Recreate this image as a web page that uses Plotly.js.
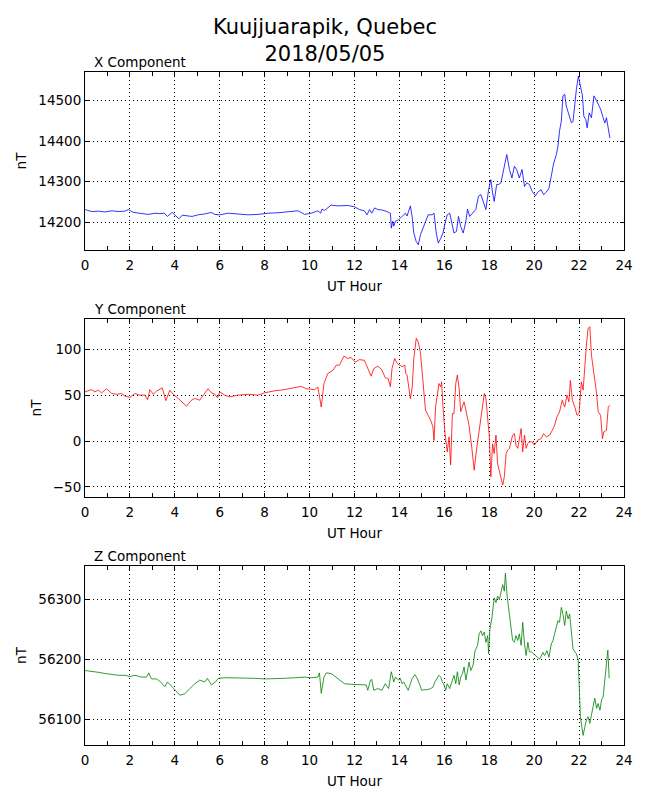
<!DOCTYPE html>
<html>
<head>
<meta charset="utf-8">
<script src="https://cdn.plot.ly/plotly-3.0.1.min.js"></script>
<style>
  body { margin: 0; background: #fff; }
  #chart { width: 650px; height: 800px; }
</style>
</head>
<body>
<div id="chart"></div>
<script>
var xHours = [0, 0.3, 0.6, 0.89, 1.19, 1.48, 1.78, 1.93, 2.15, 2.52, 2.81, 3.11, 3.33, 3.53, 3.67, 3.88, 4.03, 4.18, 4.33, 4.52,
  4.77, 5.04, 5.33, 5.63, 5.78, 6.0, 6.37, 6.81, 7.26, 7.7, 8.15, 8.59, 9.04, 9.48, 9.78, 10.07, 10.37, 10.49, 10.55, 10.67,
  10.96, 11.26, 11.7, 12.0, 12.22, 12.44, 12.56, 12.67, 12.77, 12.89, 13.04, 13.22, 13.45, 13.6, 13.64, 13.7, 13.75, 13.82, 13.97, 14.12,
  14.27, 14.34, 14.49, 14.57, 14.64, 14.75, 14.84, 14.94, 15.09, 15.28, 15.46, 15.54, 15.64, 15.73, 15.84, 15.94, 16.03, 16.13, 16.24, 16.33,
  16.43, 16.54, 16.63, 16.73, 16.84, 16.96, 17.03, 17.13, 17.25, 17.4, 17.52, 17.63, 17.73, 17.85, 17.97, 18.07, 18.15, 18.22, 18.33, 18.42,
  18.52, 18.63, 18.72, 18.78, 18.9, 19.01, 19.12, 19.22, 19.34, 19.46, 19.57, 19.67, 19.79, 19.91, 20.06, 20.16, 20.31, 20.42, 20.54, 20.66,
  20.76, 20.87, 20.99, 21.06, 21.13, 21.21, 21.28, 21.36, 21.43, 21.55, 21.66, 21.73, 21.81, 21.88, 21.97, 22.06, 22.15, 22.21, 22.3, 22.36,
  22.45, 22.55, 22.66, 22.78, 22.87, 22.96, 23.07, 23.15, 23.22, 23.3, 23.37];
var xValues = [14231, 14226, 14227, 14225, 14228, 14226, 14227, 14231, 14224, 14222, 14219, 14222, 14221, 14222, 14214, 14224, 14216, 14208, 14217, 14215,
  14214, 14218, 14220, 14224, 14219, 14218, 14222, 14220, 14218, 14219, 14222, 14223, 14225, 14228, 14219, 14222, 14228, 14222, 14232, 14229,
  14242, 14240, 14241, 14238, 14231, 14228, 14218, 14231, 14222, 14235, 14231, 14230, 14226, 14222, 14185, 14202, 14190, 14202, 14206, 14214,
  14222, 14215, 14240, 14212, 14173, 14152, 14144, 14169, 14189, 14218, 14218, 14222, 14173, 14148, 14160, 14173, 14197, 14218, 14222, 14202,
  14173, 14177, 14214, 14189, 14173, 14202, 14232, 14214, 14222, 14231, 14264, 14268, 14251, 14231, 14280, 14305, 14272, 14251, 14293, 14293,
  14297, 14330, 14355, 14367, 14330, 14309, 14338, 14330, 14309, 14330, 14288, 14297, 14293, 14276, 14265, 14274, 14280, 14268, 14274, 14284,
  14313, 14346, 14367, 14388, 14425, 14450, 14512, 14516, 14487, 14466, 14445, 14449, 14495, 14528, 14561, 14536, 14512, 14462, 14453, 14433,
  14470, 14458, 14512, 14500, 14488, 14479, 14458, 14445, 14458, 14433, 14408];

var yHours = [0, 0.15, 0.3, 0.44, 0.59, 0.74, 0.96, 1.19, 1.41, 1.63, 1.78, 2.0, 2.22, 2.44, 2.67, 2.79, 2.89, 3.04, 3.19, 3.44,
  3.6, 3.78, 3.93, 4.15, 4.37, 4.52, 4.74, 4.89, 5.11, 5.33, 5.48, 5.63, 5.78, 5.9, 6.0, 6.22, 6.44, 6.81, 7.26, 7.7,
  8.0, 8.44, 8.89, 9.33, 9.63, 9.85, 10.22, 10.37, 10.52, 10.64, 10.81, 11.04, 11.19, 11.33, 11.53, 11.7, 11.85, 12.03, 12.22, 12.44,
  12.59, 12.74, 12.86, 13.04, 13.21, 13.37, 13.5, 13.6, 13.67, 13.79, 13.9, 14.0, 14.12, 14.24, 14.28, 14.34, 14.42, 14.49, 14.57, 14.64,
  14.75, 14.84, 14.94, 15.04, 15.16, 15.28, 15.39, 15.49, 15.54, 15.61, 15.69, 15.76, 15.84, 15.88, 15.94, 16.03, 16.13, 16.21, 16.28, 16.36,
  16.43, 16.51, 16.58, 16.66, 16.73, 16.88, 16.99, 17.1, 17.22, 17.33, 17.43, 17.55, 17.67, 17.78, 17.85, 17.93, 18.0, 18.07, 18.15, 18.22,
  18.3, 18.37, 18.48, 18.6, 18.67, 18.75, 18.82, 18.9, 18.97, 19.04, 19.12, 19.19, 19.27, 19.34, 19.42, 19.49, 19.57, 19.64, 19.72, 19.79,
  19.91, 20.01, 20.16, 20.31, 20.42, 20.54, 20.69, 20.81, 20.91, 21.01, 21.13, 21.25, 21.36, 21.46, 21.55, 21.61, 21.7, 21.81, 21.91, 22.0,
  22.1, 22.18, 22.25, 22.33, 22.4, 22.48, 22.55, 22.63, 22.7, 22.78, 22.85, 22.96, 23.04, 23.1, 23.22, 23.3, 23.37];
var yValues = [53.6, 54.7, 56, 53.6, 55.5, 52.5, 57, 51.8, 51, 51.8, 48.9, 47.5, 51.8, 50, 50, 45, 56, 51, 54.5, 58,
  44, 55.5, 51, 46.4, 41.8, 38, 44.5, 46.4, 44.5, 52.5, 57, 52.5, 51, 47, 53.6, 50, 48.2, 50, 51, 50,
  52.5, 54.7, 56, 58.2, 59.6, 57, 56, 58.9, 37, 62.7, 73.6, 77, 82.7, 82.7, 92.5, 90, 91, 86, 88.7, 88,
  78.9, 70.7, 78.9, 81.5, 77.8, 69, 68, 59, 79, 90, 84.5, 82.7, 81, 82.7, 73.6, 72, 59, 46, 59, 90,
  112, 108, 95.5, 62.7, 33.6, 28, 22.7, 15.5, 0.7, 37, 51.8, 62.7, 59, 64.5, 37, 8, -11.8, 4.5, -26, 30,
  30, 62.7, 71.8, 57, 32, 42.7, 30, 17, -6.4, -31.8, -10, 10, 33.6, 51.8, 46.4, 26, 6, -39, -3, -13.6,
  6.4, -24.5, -35.5, -48, -39, -13.6, -10, -8, -1, 6.4, 8, -4.5, -8, 4.5, 13.6, -11.8, 6.4, -8, -2.7, -1,
  -1, -4.5, 1, 2.7, 8, 4.5, 6.4, 11.8, 17.3, 26, 31.8, 44.5, 37, 50, 42.7, 66, 44.5, 37, 28, 30,
  64.5, 55.5, 82.7, 106, 122.7, 124.5, 93.6, 79, 61, 51.8, 32, 28, 2.5, 10, 11.8, 37, 39];

var zHours = [0, 0.3, 0.59, 0.89, 1.19, 1.48, 1.78, 2.0, 2.22, 2.52, 2.74, 2.84, 2.96, 3.19, 3.33, 3.56, 3.67, 3.85, 4.0, 4.22,
  4.44, 4.67, 4.89, 5.11, 5.33, 5.45, 5.63, 5.81, 5.93, 6.22, 6.67, 7.11, 7.56, 8.0, 8.44, 8.89, 9.33, 9.78, 10.07, 10.37,
  10.44, 10.52, 10.64, 10.74, 10.96, 11.26, 11.56, 11.85, 12.15, 12.52, 12.59, 12.71, 12.77, 12.86, 13.04, 13.22, 13.37, 13.52, 13.64, 13.75,
  13.82, 13.97, 14.04, 14.12, 14.19, 14.3, 14.39, 14.49, 14.57, 14.69, 14.79, 14.9, 14.99, 15.09, 15.24, 15.39, 15.49, 15.58, 15.69, 15.76,
  15.84, 15.91, 15.99, 16.06, 16.13, 16.24, 16.36, 16.43, 16.51, 16.58, 16.66, 16.73, 16.81, 16.88, 16.96, 17.03, 17.1, 17.18, 17.28, 17.37,
  17.48, 17.55, 17.63, 17.7, 17.78, 17.85, 17.93, 17.97, 18.03, 18.12, 18.18, 18.22, 18.3, 18.37, 18.45, 18.52, 18.6, 18.67, 18.72, 18.79,
  18.87, 18.97, 19.04, 19.12, 19.19, 19.27, 19.34, 19.42, 19.49, 19.57, 19.64, 19.72, 19.79, 19.87, 19.97, 20.09, 20.24, 20.39, 20.46, 20.57,
  20.66, 20.76, 20.84, 20.91, 20.99, 21.06, 21.13, 21.21, 21.28, 21.36, 21.43, 21.51, 21.58, 21.66, 21.73, 21.81, 21.88, 21.96, 22.0, 22.06,
  22.12, 22.18, 22.25, 22.33, 22.4, 22.48, 22.55, 22.63, 22.7, 22.78, 22.85, 22.93, 23.0, 23.07, 23.15, 23.22, 23.28, 23.34];
var zValues = [56181, 56180, 56178, 56176, 56174, 56173, 56173, 56171, 56173, 56170, 56170, 56177, 56167, 56167, 56163, 56154, 56162, 56154, 56149, 56140,
  56142, 56151, 56159, 56165, 56162, 56168, 56157, 56162, 56168, 56169, 56169, 56169, 56168, 56167, 56167, 56168, 56169, 56170, 56169, 56170,
  56177, 56143, 56170, 56177, 56176, 56168, 56159, 56158, 56157, 56157, 56148, 56165, 56166, 56148, 56151, 56148, 56159, 56151, 56179, 56162,
  56170, 56165, 56168, 56159, 56162, 56154, 56148, 56159, 56168, 56174, 56168, 56158, 56148, 56149, 56149, 56151, 56153, 56162, 56168, 56173,
  56170, 56162, 56157, 56148, 56159, 56151, 56165, 56173, 56159, 56179, 56157, 56170, 56176, 56187, 56165, 56181, 56195, 56181, 56190, 56214,
  56223, 56242, 56247, 56239, 56245, 56228, 56239, 56209, 56250, 56269, 56286, 56302, 56294, 56305, 56299, 56313, 56324, 56313, 56343, 56307,
  56280, 56253, 56231, 56228, 56239, 56231, 56242, 56223, 56261, 56225, 56206, 56228, 56212, 56212, 56209, 56206, 56200, 56211, 56206, 56214,
  56203, 56225, 56231, 56242, 56253, 56264, 56261, 56286, 56275, 56256, 56280, 56267, 56275, 56242, 56217, 56212, 56209, 56198, 56148, 56104,
  56088, 56073, 56086, 56099, 56104, 56093, 56107, 56121, 56135, 56118, 56126, 56115, 56132, 56137, 56165, 56198, 56215, 56168];

var hourTicks = [0, 2, 4, 6, 8, 10, 12, 14, 16, 18, 20, 22, 24];
var xTicks = [14200, 14300, 14400, 14500];
var yTicks = [-50, 0, 50, 100];
var zTicks = [56100, 56200, 56300];
var panelTitles = ['X Component', 'Y Component', 'Z Component'];

var font = {family: 'DejaVu Sans, sans-serif', size: 13.5, color: '#000'};

function xAxis(anchor) {
  return {
    anchor: anchor,
    range: [0, 24],
    tickvals: hourTicks,
    ticks: 'inside',
    ticklen: 4,
    tickcolor: '#000',
    ticklabelstandoff: 3,
    minor: {dtick: 1, ticks: 'inside', ticklen: 4, tickcolor: '#000', showgrid: false},
    showline: true,
    linecolor: '#000',
    linewidth: 1,
    mirror: 'ticks',
    showgrid: true,
    gridcolor: '#000',
    gridwidth: 1,
    griddash: '1px,3px',
    zeroline: false,
    tickfont: font,
    title: {text: 'UT Hour', font: font, standoff: 9}
  };
}

function yAxis(anchor, domain, range, ticks) {
  return {
    anchor: anchor,
    domain: domain,
    range: range,
    tickvals: ticks,
    tickformat: 'd',
    ticks: 'inside',
    ticklen: 4,
    tickcolor: '#000',
    showline: true,
    linecolor: '#000',
    linewidth: 1,
    mirror: 'ticks',
    showgrid: true,
    gridcolor: '#000',
    gridwidth: 1,
    griddash: '1px,3px',
    zeroline: false,
    tickfont: font,
    title: {text: 'nT', font: font, standoff: 8}
  };
}

var data = [
  {x: xHours, y: xValues, type: 'scatter', mode: 'lines', line: {color: '#0000ff', width: 0.8}, xaxis: 'x', yaxis: 'y'},
  {x: yHours, y: yValues, type: 'scatter', mode: 'lines', line: {color: '#ff0000', width: 0.8}, xaxis: 'x2', yaxis: 'y2'},
  {x: zHours, y: zValues, type: 'scatter', mode: 'lines', line: {color: '#008000', width: 0.8}, xaxis: 'x3', yaxis: 'y3'}
];

var domains = [[0.7355, 1], [0.3685, 0.633], [0, 0.266]];

var annotations = panelTitles.map(function (t, i) {
  return {
    text: t, xref: 'paper', yref: 'paper',
    x: 0.013, y: domains[i][1], xanchor: 'left', yanchor: 'bottom',
    yshift: 0, showarrow: false, font: font
  };
});
annotations.push({
  text: 'Kuujjuarapik, Quebec<br>2018/05/05',
  xref: 'paper', yref: 'paper',
  x: 0.445, y: 1.0475, xanchor: 'center', yanchor: 'middle',
  showarrow: false,
  font: {family: 'DejaVu Sans, sans-serif', size: 21, color: '#000'}
});

var layout = {
  width: 650,
  height: 800,
  showlegend: false,
  paper_bgcolor: '#fff',
  plot_bgcolor: '#fff',
  font: font,
  margin: {l: 85, r: 26, t: 72, b: 55},
  xaxis: xAxis('y'),
  yaxis: yAxis('x', domains[0], [14131, 14571], xTicks),
  xaxis2: xAxis('y2'),
  yaxis2: yAxis('x2', domains[1], [-61, 133], yTicks),
  xaxis3: xAxis('y3'),
  yaxis3: yAxis('x3', domains[2], [56057, 56355], zTicks),
  annotations: annotations
};

Plotly.newPlot('chart', data, layout, {displayModeBar: false});
</script>
</body>
</html>
